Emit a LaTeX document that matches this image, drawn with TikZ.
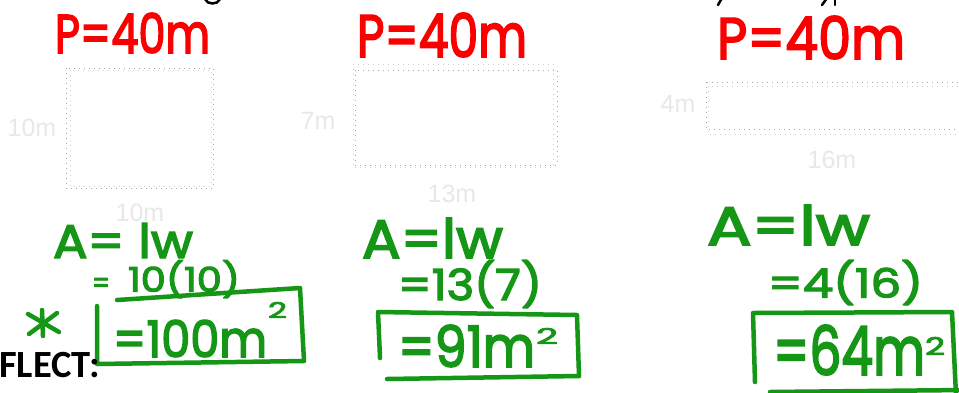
\documentclass[tikz,border=0pt]{standalone}
\usepackage{fontspec}
\usepackage{graphicx}
\newfontfamily\handfont{Poppins}[BoldFont=Poppins,BoldFeatures={FakeBold=3}]
\newfontfamily\labfont{Liberation Sans}
\newfontfamily\calfont{Carlito}
\definecolor{hred}{RGB}{250,0,0}
\definecolor{hgreen}{RGB}{22,150,22}
\definecolor{faint}{RGB}{232,232,232}
\newcommand\hnode[7]{\node[hw,text=#6] (#1) at (#2,#3) {\resizebox*{#4pt}{#5pt}{\handfont\bfseries #7}};}
\tikzset{
  hw/.style={anchor=north west,inner sep=0pt,outer sep=0pt},
  dimlab/.style={text=faint,font=\labfont\fontsize{25}{25}\selectfont,inner sep=0pt},
  dotbox/.style={draw=black!35,line width=0.9pt,dash pattern=on 1pt off 4pt},
  dotboxl/.style={draw=black!18,line width=0.9pt,dash pattern=on 1pt off 4pt},
  gbox/.style={draw=hgreen,line width=4.5pt,line cap=round,line join=round},
  blkmark/.style={draw=black,line width=2.5pt,line cap=round}
}
\begin{document}
\begin{tikzpicture}[x=1pt,y=-1pt]
\useasboundingbox (0,0) rectangle (959,392);
\clip (0,0) rectangle (959,392);
\fill[white] (0,0) rectangle (959,392);
% cut-off strokes at the top
\draw[blkmark] (205,-1) .. controls (207,5) and (218,5) .. (220,-1);
\draw[blkmark] (722,-2) -- (718,5);
\draw[blkmark] (827,-2) -- (822,5);
\draw[blkmark] (835,-2) -- (835,5);
% perimeters
\hnode{p1}{55}{13}{155}{40}{hred}{P=40m}
\hnode{p2}{357}{13}{170}{44}{hred}{P=40m}
\hnode{p3}{717}{16}{188}{43}{hred}{P=40m}
% dotted rectangles
\draw[dotboxl] (70,70) rectangle (211,186);
\draw[dotbox] (66,68) rectangle (213,188);
\draw[dotboxl] (353,64) rectangle (553,167);
\draw[dotbox] (355,70) rectangle (557,165);
\draw[dotbox] (706,82) rectangle (975,129);
\draw[dotboxl] (708,86) rectangle (975,134);
% dimension labels
\node[dimlab] (l1) at (32,128) {10m};
\node[dimlab] (w1) at (140,213) {10m};
\node[dimlab] (l2) at (318,121) {7m};
\node[dimlab] (w2) at (452,194) {13m};
\node[dimlab] (l3) at (678,104) {4m};
\node[dimlab] (w3) at (832,160) {16m};
% left working
\hnode{a1}{53}{223}{140}{35}{hgreen}{A= lw}
\hnode{e1}{92}{278}{18}{15}{hgreen}{=}
\hnode{s1}{128}{260}{112}{38}{hgreen}{10(10)}
\hnode{r1}{113}{320}{154}{37}{hgreen}{=100m}
\hnode{q1}{268}{302}{19}{16}{hgreen}{2}
\draw[gbox] (117,300) -- (300,288) -- (304,361) -- (97,364) -- (97,306);
\draw[gbox] (42,310) -- (43,336);
\draw[gbox] (28,314) -- (59,332);
\draw[gbox] (57,313) -- (29,334);
% middle working
\hnode{a2}{362}{218}{141}{40}{hgreen}{A=lw}
\hnode{s2}{398}{260}{144}{48}{hgreen}{=13(7)}
\hnode{r2}{398}{325}{137}{42}{hgreen}{=91m}
\hnode{q2}{536}{328}{22}{16}{hgreen}{2}
\draw[gbox] (380,358) -- (378,312) -- (577,315) -- (579,376);
\draw[gbox] (387,379) -- (579,376);
% right working
\hnode{a3}{707}{205}{163}{40}{hgreen}{A=lw}
\hnode{s3}{768}{260}{155}{45}{hgreen}{=4(16)}
\hnode{r3}{773}{325}{152}{50}{hgreen}{=64m}
\hnode{q3}{925}{337}{20}{18}{hgreen}{2}
\draw[gbox] (755,382) -- (753,313) -- (952,312) -- (956,395);
\draw[gbox] (770,392) -- (965,390);
% reflect heading
\node[inner sep=0pt,anchor=base west,font=\calfont\bfseries\fontsize{38.5}{38.5}\selectfont] (refl) at (-1,377) {FLECT:};
\end{tikzpicture}
\end{document}
